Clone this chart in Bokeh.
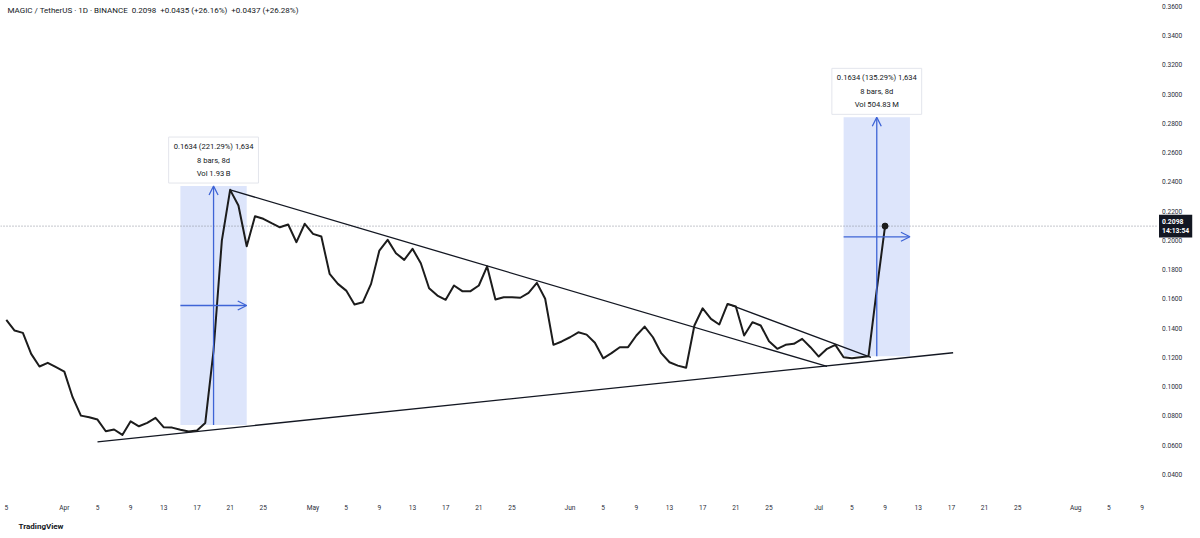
import pandas as pd
from bokeh.plotting import figure
from bokeh.models import (Range1d, FixedTicker, NumeralTickFormatter, Label,
                          Arrow, OpenHead, Title)
from bokeh.embed import file_html
from bokeh.resources import INLINE

# ---------------- data ----------------
start_date = "2025-03-25"
close = [
    0.1457, 0.1384, 0.1368, 0.1224, 0.1138, 0.1163, 0.1133,
    0.1103, 0.0928, 0.0802, 0.0791, 0.0775, 0.0695, 0.0707, 0.0670, 0.0763, 0.0729,
    0.0752, 0.0787, 0.0722, 0.0720, 0.0705, 0.0693, 0.0700, 0.0752, 0.1247, 0.1999,
    0.2346, 0.2239, 0.1960, 0.2166, 0.2148, 0.2118, 0.2090, 0.2109, 0.1988, 0.2114,
    0.2045, 0.2027, 0.1772, 0.1703, 0.1657, 0.1562, 0.1577, 0.1703, 0.1931, 0.2004,
    0.1913, 0.1867, 0.1943, 0.1844, 0.1673, 0.1623, 0.1594, 0.1692, 0.1653, 0.1653,
    0.1692, 0.1822, 0.1596, 0.1612, 0.1612, 0.1608, 0.1642, 0.1710, 0.1601, 0.1286, 0.1309,
    0.1338, 0.1372, 0.1356, 0.1300, 0.1194, 0.1229, 0.1270, 0.1270, 0.1350, 0.1411,
    0.1338, 0.1229, 0.1167, 0.1144, 0.1129, 0.1418, 0.1536, 0.1464, 0.1425, 0.1566,
    0.1548, 0.1350, 0.1441, 0.1418, 0.1311, 0.1259, 0.1286, 0.1293, 0.1327, 0.1270,
    0.1206, 0.1259, 0.1286, 0.1201, 0.1194, 0.1201, 0.1208, 0.1663, 0.2098,
]
last_price = 0.2098
NB2 = "\u00a0\u00a0"
header_text = ("MAGIC / TetherUS \u00b7 1D \u00b7 BINANCE" + NB2 + "0.2098" + NB2 +
               "+0.0435 (+26.16%)" + NB2 + "+0.0437 (+26.28%)")
price_tag_text = "0.2098\n14:13:54"

support_dates = ["2025-04-05", "2025-07-17 05:00"]
support_prices = [0.0623, 0.1232]
resist_dates = ["2025-04-21", "2025-07-02"]
resist_prices = [0.2346, 0.1138]
flag_dates = ["2025-06-20", "2025-07-07 07:00"]
flag_prices = [0.1566, 0.1200]

measure_start = ["2025-04-15", "2025-07-04"]
measure_end = ["2025-04-23", "2025-07-12"]
measure_low = [0.0738, 0.1208]
measure_high = [0.2372, 0.2842]
measure_text = ["0.1634 (221.29%) 1,634\n8 bars, 8d\nVol 1.93\u2009B",
                "0.1634 (135.29%) 1,634\n8 bars, 8d\nVol 504.83\u2009M"]

y_ticks = [0.04, 0.06, 0.08, 0.10, 0.12, 0.14, 0.16, 0.18, 0.20, 0.22, 0.24,
           0.26, 0.28, 0.30, 0.32, 0.34, 0.36]
tick_dates = ["2025-03-25", "2025-04-01", "2025-04-05", "2025-04-09", "2025-04-13",
              "2025-04-17", "2025-04-21", "2025-04-25", "2025-05-01", "2025-05-05",
              "2025-05-09", "2025-05-13", "2025-05-17", "2025-05-21", "2025-05-25",
              "2025-06-01", "2025-06-05", "2025-06-09", "2025-06-13", "2025-06-17",
              "2025-06-21", "2025-06-25", "2025-07-01", "2025-07-05", "2025-07-09",
              "2025-07-13", "2025-07-17", "2025-07-21", "2025-07-25", "2025-08-01",
              "2025-08-05", "2025-08-09"]
tick_labels = ["5", "Apr", "5", "9", "13", "17", "21", "25", "May", "5", "9", "13",
               "17", "21", "25", "Jun", "5", "9", "13", "17", "21", "25", "Jul", "5",
               "9", "13", "17", "21", "25", "Aug", "5", "9"]

# ---------------- helpers ----------------
ORIGIN = pd.Timestamp("2025-04-01")


def day(s):
    return (pd.Timestamp(s) - ORIGIN) / pd.Timedelta(days=1)


dates = pd.date_range(start_date, periods=len(close), freq="D")
xs = [(d - ORIGIN) / pd.Timedelta(days=1) for d in dates]

FONT = "Roboto"
BLUE = "#3e64d6"
INK = "#131722"
X0, X1 = -7.7, 137.05      # visible day span (frame spans the full width)
AXIS_AT = 131.2            # price scale sits here, as on TradingView

p = figure(frame_width=1200, frame_height=497,
           x_range=Range1d(X0, X1), y_range=Range1d(0.0242, 0.3641),
           y_axis_location="right", output_backend="svg", toolbar_location=None,
           min_border_left=0, min_border_top=0, min_border_right=0, min_border_bottom=0,
           background_fill_color="white", border_fill_color="white",
           outline_line_color=None)
p.grid.visible = False

# axes
xt = [int(round(day(s))) for s in tick_dates]
p.xaxis.ticker = FixedTicker(ticks=xt)
p.xaxis.major_label_overrides = {t: l for t, l in zip(xt, tick_labels)}
p.yaxis.ticker = FixedTicker(ticks=y_ticks)
p.yaxis.formatter = NumeralTickFormatter(format="0.0000")
p.yaxis.fixed_location = AXIS_AT
for ax in (p.xaxis[0], p.yaxis[0]):
    ax.axis_line_color = None
    ax.major_tick_line_color = None
    ax.minor_tick_line_color = None
    ax.major_tick_out = 0
    ax.major_tick_in = 0
    ax.major_label_text_font = FONT
    ax.major_label_text_font_size = "6.6px"
    ax.major_label_text_color = "#2a2e39"
p.yaxis.major_label_standoff = 10
p.xaxis.major_label_standoff = 6

# measurement boxes
m_left = [day(s) for s in measure_start]
m_right = [day(s) for s in measure_end]
p.quad(left=m_left, right=m_right, bottom=measure_low, top=measure_high,
       fill_color="#dde5fb", line_color=None)

# dotted last-price line (up to the price scale)
p.segment(x0=[X0], x1=[AXIS_AT + 0.6], y0=[last_price], y1=[last_price],
          line_color="#8a8e99", line_dash="1 2", line_width=1)

# trend lines
for dl, pl in ((support_dates, support_prices), (resist_dates, resist_prices),
               (flag_dates, flag_prices)):
    p.line([day(s) for s in dl], pl, line_color=INK, line_width=1.3)

# price line
p.line(xs, close, line_color="#1c1c1c", line_width=2, line_join="round")
p.scatter([xs[-1]], [close[-1]], size=6, color="#1c1c1c")

# arrows + labels
for l, r, lo, hi, txt in zip(m_left, m_right, measure_low, measure_high, measure_text):
    xm = (l + r) / 2
    ym = (lo + hi) / 2
    p.add_layout(Arrow(end=OpenHead(size=9, line_color=BLUE, line_width=1.3),
                       x_start=xm, y_start=lo, x_end=xm, y_end=hi,
                       line_color=BLUE, line_width=1.3))
    p.add_layout(Arrow(end=OpenHead(size=9, line_color=BLUE, line_width=1.3),
                       x_start=l, y_start=ym, x_end=r, y_end=ym,
                       line_color=BLUE, line_width=1.3))
    p.add_layout(Label(x=xm, y=hi, y_offset=3, text=txt, text_align="center",
                       text_baseline="bottom", text_font=FONT, text_font_size="7.6px",
                       text_color=INK, text_line_height=1.5,
                       background_fill_color="white", border_line_color="#e3e5ec",
                       padding=5))

# header
p.add_layout(Label(x=X0, y=0.3641, x_offset=7, y_offset=-5, text=header_text,
                   text_align="left", text_baseline="top", text_font=FONT,
                   text_font_size="8px", text_color=INK))

# price tag on the price scale
p.add_layout(Label(x=AXIS_AT, y=last_price, x_offset=7, text=price_tag_text,
                   text_align="left", text_baseline="middle", text_font=FONT,
                   text_font_size="6.8px", text_font_style="bold", text_color="white",
                   text_line_height=1.1,
                   background_fill_color=INK, padding=3))

# logo text
p.add_layout(Title(text="TradingView", align="left", text_font=FONT,
                   text_font_size="8px", text_font_style="bold", text_color=INK,
                   offset=18, standoff=11), "below")

open("out.html", "w").write(file_html(p, INLINE))
